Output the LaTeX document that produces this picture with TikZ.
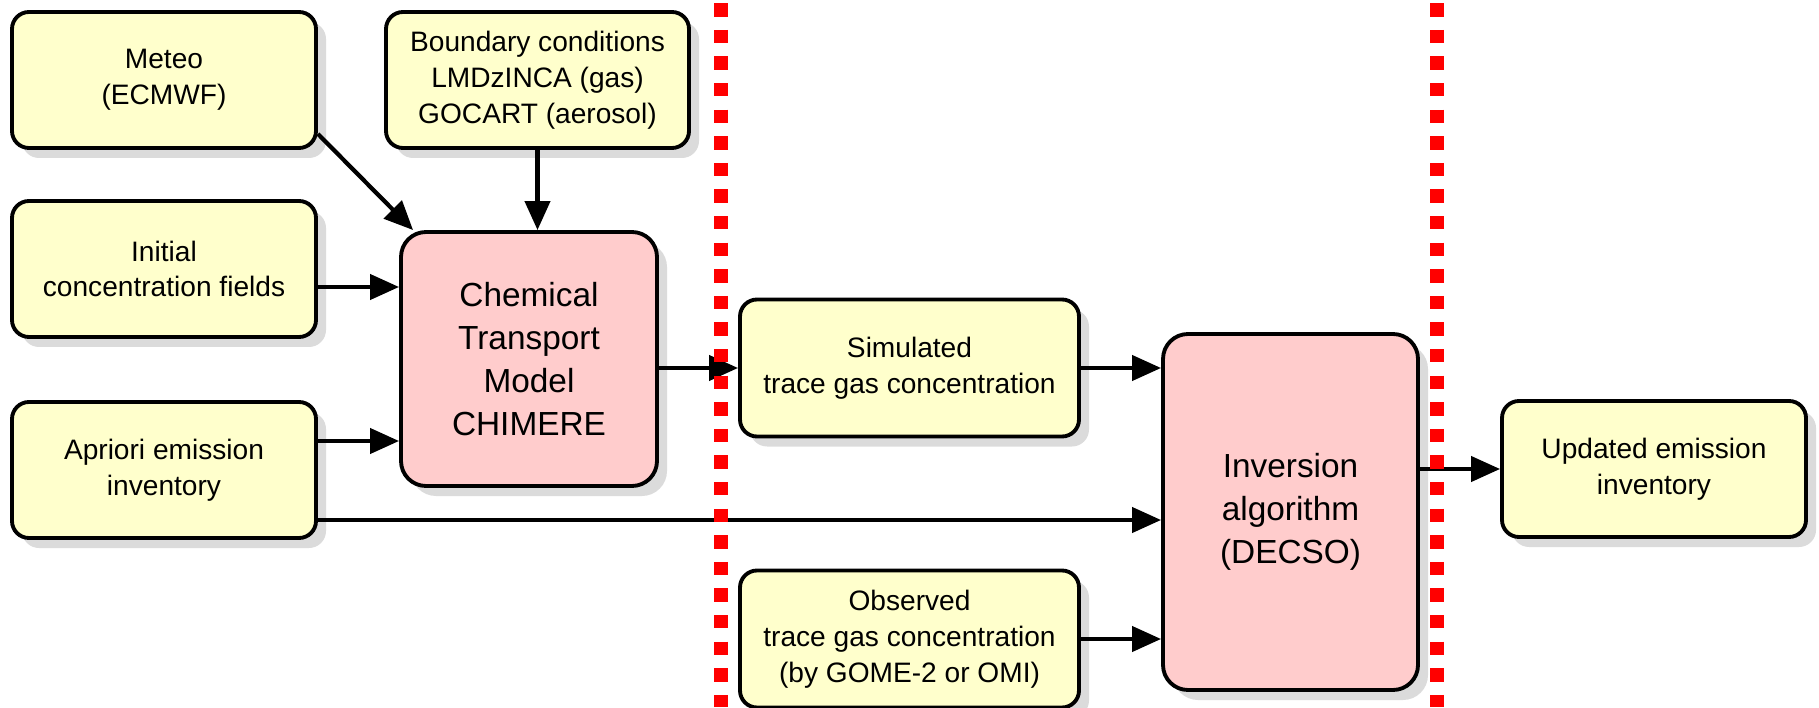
\documentclass[tikz,border=0pt]{standalone}
\usepackage{fontspec}
\setmainfont{Liberation Sans}
\usetikzlibrary{arrows.meta,shadows}

\definecolor{inputyellow}{HTML}{FFFFCC}
\definecolor{modelpink}{HTML}{FFCCCC}

\tikzset{
  box/.style={draw, line width=1.1pt, rounded corners=0.17cm, fill=inputyellow,
    align=center, minimum width=3.04cm, minimum height=1.36cm,
    font=\fontsize{8}{10.2}\selectfont,
    drop shadow={shadow xshift=0.1cm, shadow yshift=-0.1cm, fill=black!14, opacity=1}},
  bigbox/.style={box, rounded corners=0.25cm, fill=modelpink,
    font=\fontsize{9.5}{12.2}\selectfont},
  flow/.style={-{Triangle[length=0.29cm, width=0.25cm]}, line width=1.2pt},
  sepline/.style={red, line width=0.14cm, dash pattern=on 0.133cm off 0.133cm, dash phase=0.233cm}
}

\begin{document}
\begin{tikzpicture}
  \useasboundingbox (0,0) rectangle (18.19,7.07);

  % Inputs
  \node[box] (meteo) at (1.64,6.27) {Meteo\\(ECMWF)};
  \node[box, minimum width=3.03cm] (bnd) at (5.375,6.27) {Boundary conditions\\LMDzINCA (gas)\\GOCART (aerosol)};
  \node[box] (init) at (1.64,4.38) {Initial\\concentration fields};
  \node[box] (apri) at (1.64,2.37) {Apriori emission\\inventory};

  % Models
  \node[bigbox, minimum width=2.56cm, minimum height=2.54cm] (ctm) at (5.29,3.48) {Chemical\\Transport\\Model\\CHIMERE};
  \node[bigbox, minimum width=2.55cm, minimum height=3.56cm] (inv) at (12.905,1.95) {Inversion\\algorithm\\(DECSO)};

  % Concentrations
  \node[box, minimum width=3.39cm, minimum height=1.37cm] (sim) at (9.095,3.39) {Simulated\\trace gas concentration};
  \node[box, minimum width=3.39cm, minimum height=1.37cm] (obs) at (9.095,0.68) {Observed\\trace gas concentration\\(by GOME-2 or OMI)};

  % Output
  \node[box] (upd) at (16.54,2.38) {Updated emission\\inventory};

  % Arrows
  \draw[flow] ([yshift=0.16cm]meteo.south east) -- ([xshift=0.14cm]ctm.north west);
  \draw[flow] (bnd.south) -- (bnd.south |- ctm.north);
  \draw[flow] ([yshift=-0.18cm]init.east) -- ([yshift=-0.18cm]init.east -| ctm.west);
  \draw[flow] ([yshift=0.29cm]apri.east) -- ([yshift=0.29cm]apri.east -| ctm.west);
  \draw[flow] ([yshift=-0.5cm]apri.east) -- ([yshift=-0.5cm]apri.east -| inv.west);
  \draw[flow] (ctm.east |- sim.west) -- (sim.west);
  \draw[flow] (sim.east) -- (sim.east -| inv.west);
  \draw[flow] (obs.east) -- (obs.east -| inv.west);
  \draw[flow] (inv.east |- upd.west) -- (upd.west);

  % Separators
  \draw[sepline] (7.21,7.07) -- (7.21,0);
  \draw[sepline] (14.365,7.07) -- (14.365,0);
\end{tikzpicture}
\end{document}
